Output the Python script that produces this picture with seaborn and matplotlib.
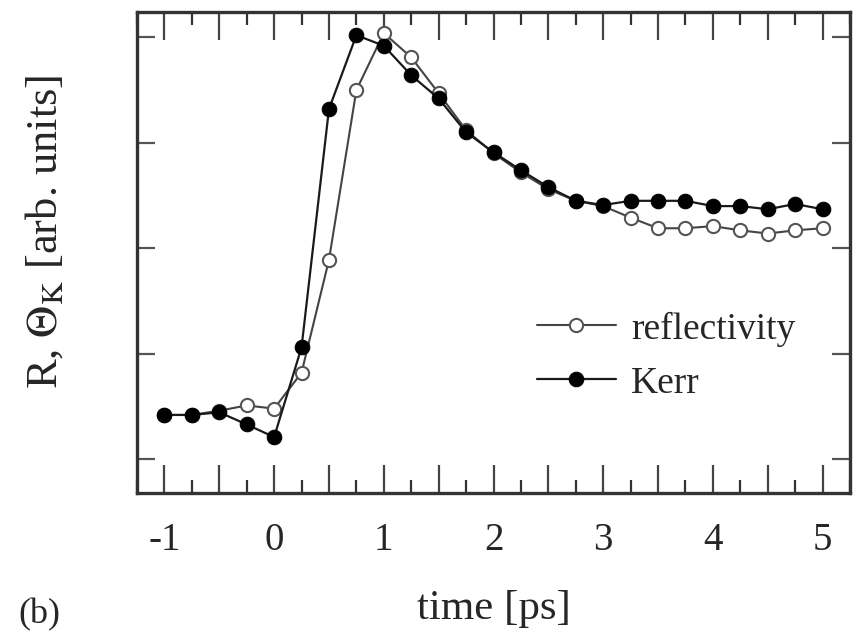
import numpy as np
import pandas as pd
import seaborn as sns
import matplotlib.pyplot as plt
from matplotlib.ticker import MultipleLocator, FuncFormatter

sns.set_style('ticks')
plt.rcParams['font.family'] = ['Liberation Serif', 'DejaVu Serif']
plt.rcParams['mathtext.fontset'] = 'stix'
plt.rcParams['axes.unicode_minus'] = False

# time delay [ps], sampled every 0.25 ps
time_ps = [-1.0, -0.75, -0.5, -0.25, 0.0, 0.25, 0.5, 0.75, 1.0, 1.25, 1.5, 1.75,
           2.0, 2.25, 2.5, 2.75, 3.0, 3.25, 3.5, 3.75, 4.0, 4.25, 4.5, 4.75, 5.0]

# signals in arbitrary units
reflectivity = [0.42, 0.42, 0.46, 0.51, 0.48, 0.82, 1.89, 3.50, 4.04, 3.81, 3.47, 3.12,
                2.90, 2.72, 2.56, 2.45, 2.40, 2.29, 2.19, 2.19, 2.21, 2.17, 2.14, 2.17, 2.19]
kerr = [0.42, 0.42, 0.445, 0.33, 0.21, 1.06, 3.32, 4.02, 3.92, 3.64, 3.42, 3.10,
        2.91, 2.74, 2.58, 2.45, 2.41, 2.45, 2.45, 2.45, 2.40, 2.40, 2.37, 2.42, 2.37]

df = pd.DataFrame({'time': time_ps, 'reflectivity': reflectivity, 'Kerr': kerr})

fig = plt.figure(figsize=(8.54, 6.36), dpi=100)
ax = fig.add_axes([137/854, 1-493/636, 713/854, 481/636])

sns.lineplot(data=df, x='time', y='reflectivity', ax=ax, sort=False, estimator=None,
             color='#444444', lw=1.5, marker='o', markersize=9.5,
             markerfacecolor='white', markeredgecolor='#555555', markeredgewidth=1.5,
             label='reflectivity', zorder=2)
sns.lineplot(data=df, x='time', y='Kerr', ax=ax, sort=False, estimator=None,
             color='#1a1a1a', lw=1.6, marker='o', markersize=10.5,
             markerfacecolor='black', markeredgecolor='black',
             label='Kerr', zorder=3)

ax.set_xlim(-1.25, 5.25)
ax.set_ylim(-0.32, 4.24)

ax.xaxis.set_major_locator(MultipleLocator(0.5))
ax.xaxis.set_minor_locator(MultipleLocator(0.25))
ax.xaxis.set_major_formatter(FuncFormatter(
    lambda v, p: str(int(round(v))) if abs(v - round(v)) < 1e-6 else ''))
ax.yaxis.set_major_locator(MultipleLocator(1))
ax.set_yticklabels([])

ax.tick_params(axis='x', which='major', direction='in', length=20, width=1.6,
               top=True, bottom=True, color='#444444', labelsize=28, pad=21)
ax.tick_params(axis='x', which='minor', direction='in', length=9.5, width=1.6,
               top=True, bottom=True, color='#333333')
ax.tick_params(axis='y', which='major', direction='in', length=13, width=1.6,
               left=True, right=True, color='#555555', labelleft=False)

for s in ax.spines.values():
    s.set_linewidth(2.4)
    s.set_color('#333333')

ax.set_xlabel('time [ps]', fontsize=31, labelpad=22)
ax.set_ylabel(r'R, $\Theta_{\mathrm{K}}$ [arb. units]', fontsize=32)
ax.yaxis.set_label_coords(-0.10, 0.543)

ax.legend(loc='center left', bbox_to_anchor=(537/854, 1-356/636),
          bbox_transform=fig.transFigure, frameon=False, fontsize=27,
          handlelength=2.1, handletextpad=0.4, labelspacing=0.52,
          borderpad=0, borderaxespad=0)

fig.text(18/854, 1-615/636, '(b)', fontsize=26, va='center', ha='left')

fig.savefig('out.png', dpi=100)
